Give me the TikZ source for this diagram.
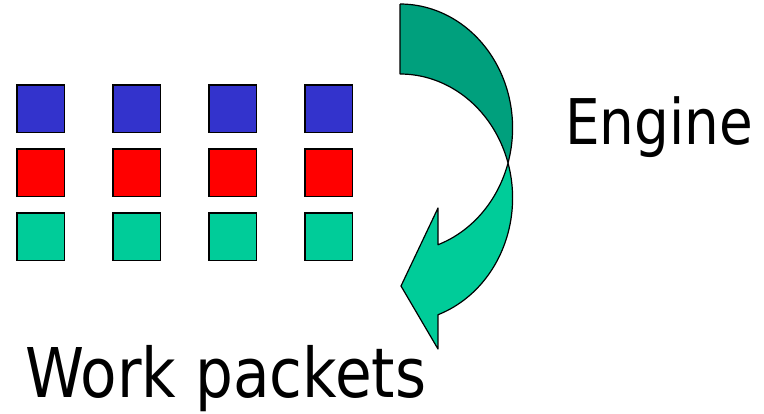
\documentclass[tikz,border=0pt]{standalone}
\usepackage{fontspec}
\setmainfont{DejaVu Sans}
\definecolor{packblue}{RGB}{51,51,204}
\definecolor{packred}{RGB}{255,0,0}
\definecolor{packgreen}{RGB}{0,204,153}
\definecolor{backgreen}{RGB}{0,160,125}
\begin{document}
\begin{tikzpicture}[x=1pt,y=-1pt,
  packet/.style={draw=black,line width=1.5pt,minimum size=47.5pt,inner sep=0pt},
  band/.style={draw=black,line width=1.2pt,line join=round},
  label/.style={inner sep=0pt,anchor=base west,xscale=0.87}]
\useasboundingbox (0,0) rectangle (764,413);

% grid of work packets
\foreach \c [count=\i] in {40.5,136.5,232.5,328.5}{
  \node[packet,fill=packblue]  (b\i) at (\c,108.5) {};
  \node[packet,fill=packred]   (r\i) at (\c,172.5) {};
  \node[packet,fill=packgreen] (g\i) at (\c,236.5) {};
}

% curved arrow: two equal ellipses, centres (400,128) and (400,198)
% back face of the band
\fill[backgreen]
  plot[domain=90:-16.4,samples=60] ({400+112.6*cos(\x)},{128-124*sin(\x)})
  -- plot[domain=16.4:90,samples=60] ({400+112.6*cos(\x)},{198-124*sin(\x)})
  -- cycle;
\draw[band]
  plot[domain=90:-16.4,samples=60] ({400+112.6*cos(\x)},{128-124*sin(\x)})
  (400,4) -- (400,74)
  plot[domain=90:16.4,samples=60] ({400+112.6*cos(\x)},{198-124*sin(\x)});
% front face with the arrow head
\filldraw[band,fill=packgreen]
  plot[domain=16.4:-70.3,samples=80] ({400+112.6*cos(\x)},{198-124*sin(\x)})
  -- (438,349) -- (401,286) -- (438,208) -- (438,244.7)
  -- plot[domain=-70.3:-16.4,samples=60] ({400+112.6*cos(\x)},{128-124*sin(\x)})
  -- cycle;

\node[label,font=\fontsize{63}{70}\selectfont] (engine) at (565,144) {Engine};
\node[label,font=\fontsize{68.6}{76}\selectfont] (work) at (25,397) {Work packets};
\end{tikzpicture}
\end{document}
